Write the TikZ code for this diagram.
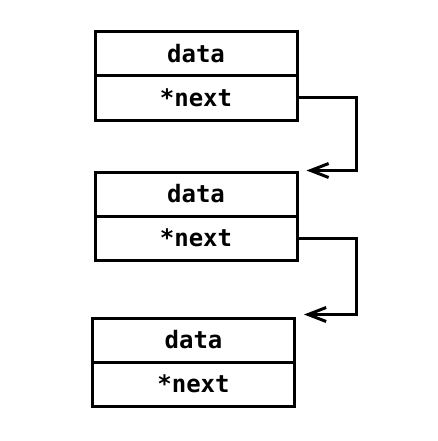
\documentclass[tikz,border=0pt]{standalone}
\usepackage{fontspec}
\setmonofont{DejaVu Sans Mono}
\usetikzlibrary{positioning,arrows.meta}
\begin{document}
\begin{tikzpicture}[
  x=1pt, y=1pt,
  font=\ttfamily\bfseries\fontsize{24}{24}\selectfont,
  cell/.style={draw, line width=3pt, minimum width=202pt, minimum height=44pt,
               inner sep=0pt, anchor=center},
  arr/.style={-{Straight Barb[length=18pt, width=14pt]}, line width=3pt}
]
\useasboundingbox (0,0) rectangle (437,-441);
% ----- three list nodes -----
\node[cell] (data1) at (196,-54)    {data};
\node[cell] (next1) at (196,-98)    {*next};
\node[cell] (data2) at (196,-194)   {data};
\node[cell] (next2) at (196,-238)   {*next};
\node[cell] (data3) at (193.5,-340) {data};
\node[cell] (next3) at (193.5,-384) {*next};
% ----- next pointers -----
\draw[arr] (next1.east) -- ++(58,0) |- ([xshift=8pt]data2.north east);
\draw[arr] (next2.east) -- ++(58,0) |- ([xshift=8pt, yshift=2pt]data3.north east);
\end{tikzpicture}
\end{document}
